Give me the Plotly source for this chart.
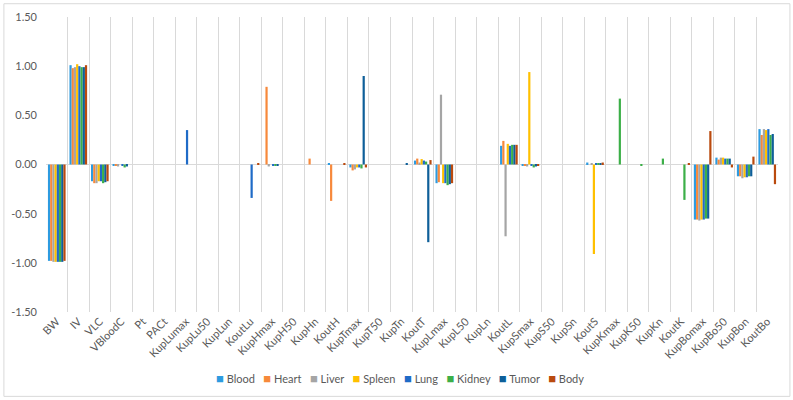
import plotly.graph_objects as go

categories = ["BW", "IV", "VLC", "VBloodC", "Pt", "PACt", "KupLumax", "KupLu50", "KupLun", "KoutLu",
              "KupHmax", "KupH50", "KupHn", "KoutH", "KupTmax", "KupT50", "KupTn", "KoutT",
              "KupLmax", "KupL50", "KupLn", "KoutL", "KupSmax", "KupS50", "KupSn", "KoutS",
              "KupKmax", "KupK50", "KupKn", "KoutK", "KupBomax", "KupBo50", "KupBon", "KoutBo"]

blood = [-0.98, 1.01, -0.17, -0.01, 0, 0, 0, 0, 0, 0, 0, 0, 0, 0.01, -0.03, 0, 0, 0.04,
         -0.19, 0, 0, 0.19, -0.01, 0, 0, 0.02, 0, 0, 0, 0, -0.56, 0.07, -0.12, 0.36]
heart = [-0.98, 0.98, -0.19, -0.01, 0, 0, 0, 0, 0, 0, 0.79, 0, 0.06, -0.37, -0.06, 0, 0, 0.06,
         -0.18, 0, 0, 0.24, -0.01, 0, 0, 0, 0, 0, 0, 0, -0.56, 0.05, -0.12, 0.30]
liver = [-0.99, 0.99, -0.19, -0.02, 0, 0, 0, 0, 0, 0, -0.02, 0, 0, 0, -0.05, 0, 0, 0.02,
         0.71, 0, 0, -0.73, -0.02, 0, 0, 0.01, 0, 0, 0, 0, -0.57, 0.07, -0.14, 0.36]
spleen = [-0.99, 1.02, -0.17, 0, 0, 0, 0, 0, 0, 0, 0, 0, 0, 0, -0.03, 0, 0, 0.055,
          -0.19, 0, 0, 0.21, 0.94, 0, 0, -0.91, 0, 0, 0, 0, -0.56, 0.07, -0.13, 0.35]
lung = [-0.99, 1.00, -0.17, -0.01, 0, 0, 0.35, 0, 0, -0.34, -0.01, 0, 0, 0, -0.03, 0, 0, 0.04,
        -0.19, 0, 0, 0.19, -0.01, 0, 0, 0.01, 0, 0, 0, 0, -0.56, 0.06, -0.13, 0.36]
kidney = [-0.99, 0.99, -0.19, -0.03, 0, 0, 0, 0, 0, 0, -0.01, 0, 0, 0, -0.04, 0, 0, 0.03,
          -0.21, 0, 0, 0.20, -0.03, 0, 0, 0.01, 0.67, -0.01, 0.06, -0.36, -0.55, 0.06, -0.12, 0.30]
tumor = [-0.99, 0.99, -0.18, -0.02, 0, 0, 0, 0, 0, 0, -0.01, 0, 0, 0, 0.90, 0, 0.01, -0.79,
         -0.20, 0, 0, 0.20, -0.02, 0, 0, 0.01, 0, 0, 0, 0, -0.55, 0.06, -0.12, 0.31]
body = [-0.98, 1.01, -0.17, 0, 0, 0, 0, 0, 0, 0.01, 0, 0, 0, 0.01, -0.03, 0, 0, 0.045,
        -0.19, 0, 0, 0.20, -0.01, 0, 0, 0.02, 0, 0, 0, 0.01, 0.34, -0.03, 0.08, -0.20]

series_names = ["Blood", "Heart", "Liver", "Spleen", "Lung", "Kidney", "Tumor", "Body"]
series_values = [blood, heart, liver, spleen, lung, kidney, tumor, body]
colors = ["#2D9BE0", "#F7893B", "#A5A5A5", "#FFC000", "#1F6BC7", "#3CAF48", "#0E5F99", "#BA4A0E"]

y_ticks = [-1.5, -1.0, -0.5, 0.0, 0.5, 1.0, 1.5]
y_ticktext = [f"{v:.2f}" for v in y_ticks]

fig = go.Figure()
for name, vals, col in zip(series_names, series_values, colors):
    fig.add_trace(go.Bar(x=categories, y=vals, name=name, showlegend=False,
                         marker=dict(color=col, line=dict(width=0))))

# legend drawn as one line of text (Excel-style compact legend)
legend_text = "&nbsp;&nbsp;&nbsp;".join(
    f'<span style="color:{c};font-size:13px">■</span>&nbsp;{n}' for n, c in zip(series_names, colors)
)

font_fam = "Lato, Carlito, Calibri, sans-serif"
fig.update_layout(
    width=793, height=400,
    margin=dict(l=46, r=15, t=17, b=88, autoexpand=False),
    paper_bgcolor="white", plot_bgcolor="white",
    barmode="group", bargap=0.18, bargroupgap=0,
    font=dict(family=font_fam, size=11, color="#595959"),
    showlegend=False,
    xaxis=dict(type="category", tickangle=-45, tickson="boundaries", showgrid=True,
               gridcolor="#D9D9D9", gridwidth=1, ticks="", showline=False, zeroline=False,
               automargin=False, tickfont=dict(size=11, color="#595959")),
    yaxis=dict(range=[-1.5, 1.5], tickvals=y_ticks, ticktext=y_ticktext, showgrid=False,
               zeroline=True, zerolinecolor="#D9D9D9", zerolinewidth=1, showline=False,
               automargin=False, ticks="", ticklabelstandoff=8, tickfont=dict(size=11, color="#595959")),
    annotations=[dict(text=legend_text, xref="paper", yref="paper", x=0.483, y=-0.225,
                      xanchor="center", yanchor="middle", showarrow=False,
                      font=dict(size=11, color="#595959", family=font_fam))],
    shapes=[dict(type="rect", xref="paper", yref="paper", x0=-0.0575, x1=1.0163, y0=-0.286, y1=1.045,
                 line=dict(color="#D9D9D9", width=1), fillcolor="rgba(0,0,0,0)", layer="below")],
)

fig.write_html("out.html", config={"displayModeBar": False},
               post_script="document.body.style.margin='0px';")
